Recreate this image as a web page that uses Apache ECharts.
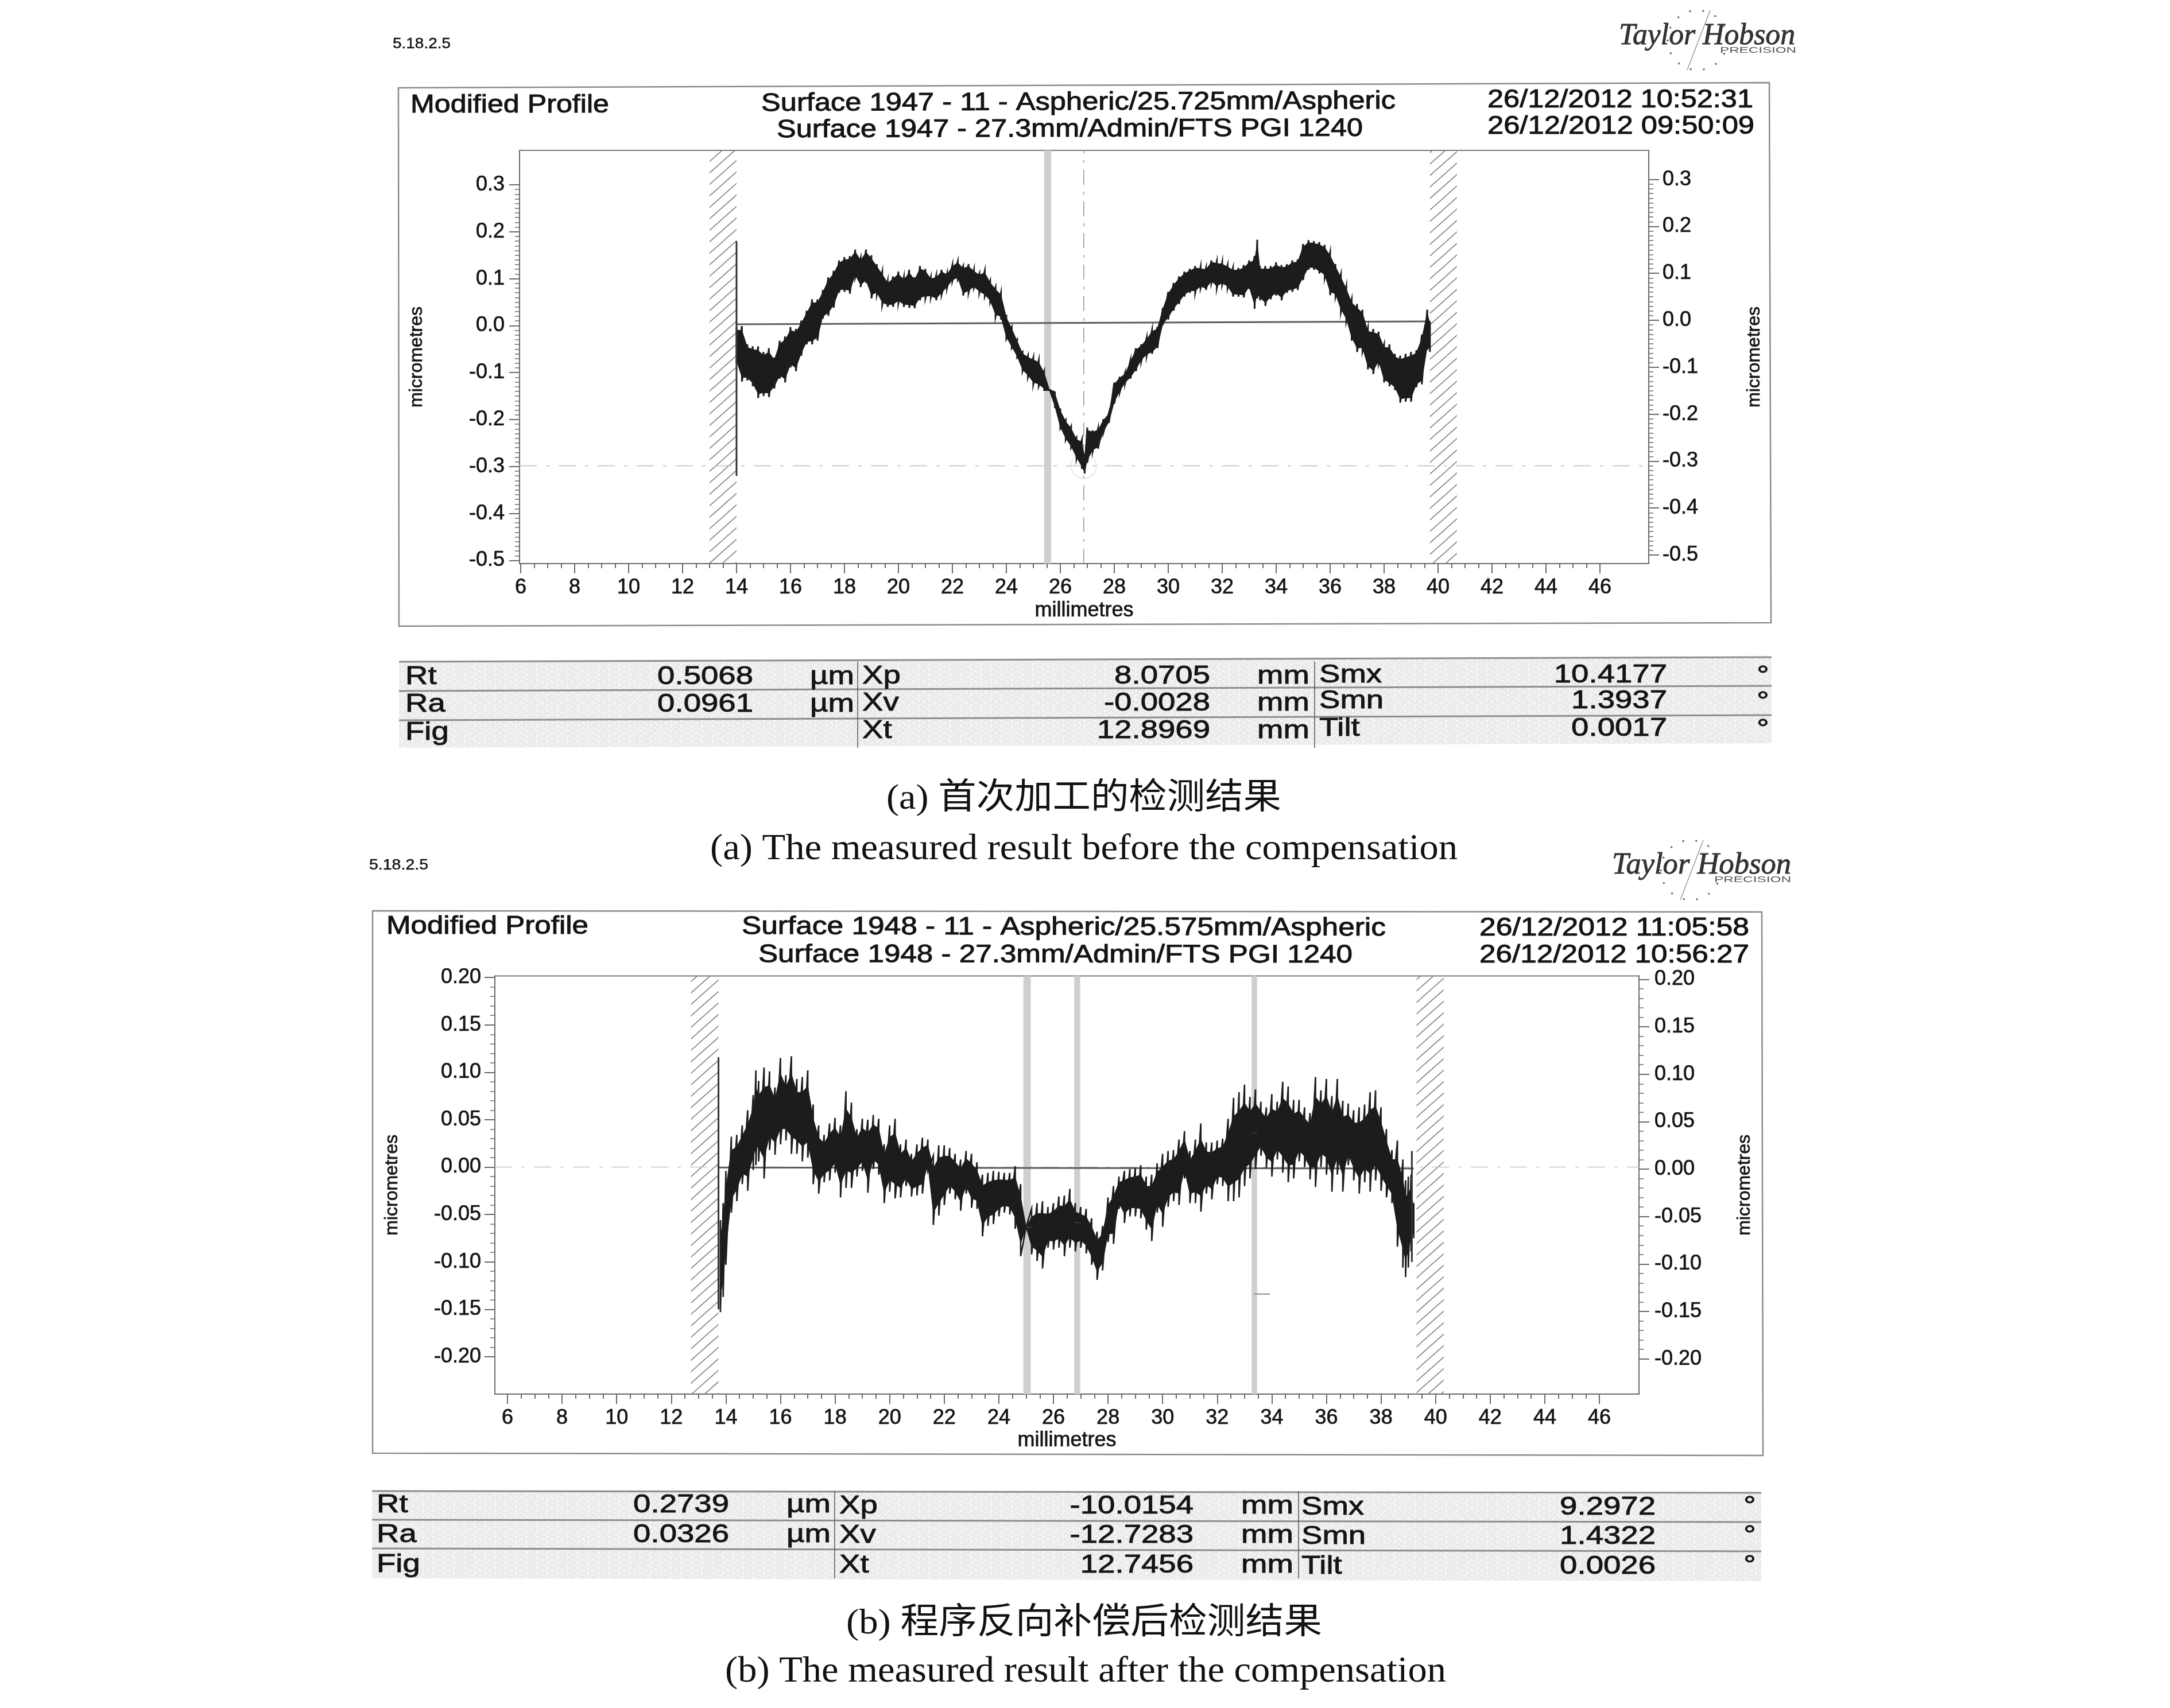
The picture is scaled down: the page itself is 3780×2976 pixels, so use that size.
<!DOCTYPE html>
<html><head><meta charset="utf-8">
<style>html,body{margin:0;padding:0;background:#fff}#c{width:3780px;height:2976px}</style>
<script src="https://cdn.jsdelivr.net/npm/echarts@6/dist/echarts.min.js"></script>
</head><body><div id="c"></div>
<script>
// ---------- panel (a) ----------
const xA = [14.0,14.2,14.4,14.6,14.8,15.0,15.2,15.4,15.6,15.8,16.0,16.2,16.4,16.6,16.8,17.0,17.2,17.4,17.6,17.8,18.0,18.2,18.4,18.6,18.8,19.0,19.2,19.4,19.6,19.8,20.0,20.2,20.4,20.6,20.8,21.0,21.2,21.4,21.6,21.8,22.0,22.2,22.4,22.6,22.8,23.0,23.2,23.4,23.6,23.8,24.0,24.2,24.4,24.6,24.8,25.0,25.2,25.4,25.6,25.8,26.0,26.2,26.4,26.6,26.8,26.9,27.0,27.2,27.4,27.6,27.8,28.0,28.2,28.4,28.6,28.8,29.0,29.2,29.4,29.6,29.8,30.0,30.2,30.4,30.6,30.8,31.0,31.2,31.4,31.6,31.8,32.0,32.2,32.4,32.6,32.8,33.0,33.2,33.3,33.4,33.6,33.8,34.0,34.2,34.4,34.6,34.8,35.0,35.2,35.4,35.6,35.8,36.0,36.2,36.4,36.6,36.8,37.0,37.2,37.4,37.6,37.8,38.0,38.2,38.4,38.6,38.8,39.0,39.2,39.4,39.6,39.7];
const hiA = [-.003,-.001,-.040,-.044,-.044,-.056,-.048,-.068,-.032,-.023,-.003,-.007,.011,.032,.056,.056,.076,.103,.117,.139,.146,.148,.162,.144,.162,.150,.131,.115,.095,.105,.115,.103,.119,.103,.127,.121,.103,.107,.119,.111,.129,.137,.127,.131,.119,.111,.117,.095,.082,.070,.021,-.003,-.030,-.056,-.064,-.068,-.074,-.097,-.137,-.142,-.178,-.201,-.215,-.239,-.243,-.276,-.217,-.223,-.219,-.199,-.186,-.121,-.109,-.101,-.074,-.048,-.040,-.026,-.009,-.003,.038,.072,.091,.105,.115,.121,.127,.125,.123,.139,.137,.135,.129,.123,.123,.129,.139,.148,.183,.127,.127,.127,.135,.129,.131,.139,.141,.174,.182,.180,.178,.172,.156,.131,.109,.084,.056,.046,.034,-.005,-.007,-.013,-.040,-.040,-.060,-.064,-.060,-.056,-.052,-.019,.034,.009];
const loA = [-.081,-.119,-.117,-.129,-.154,-.150,-.152,-.134,-.113,-.121,-.089,-.097,-.064,-.040,-.040,-.032,.015,.021,.038,.070,.072,.068,.103,.082,.091,.058,.066,.044,.040,.040,.048,.040,.038,.037,.054,.058,.060,.054,.066,.080,.095,.099,.064,.070,.080,.070,.062,.050,.019,.015,-.028,-.048,-.068,-.097,-.109,-.125,-.129,-.137,-.139,-.174,-.219,-.243,-.260,-.284,-.305,-.315,-.292,-.268,-.262,-.227,-.207,-.166,-.142,-.123,-.113,-.097,-.076,-.064,-.060,-.048,.001,.013,.032,.046,.062,.070,.070,.080,.076,.091,.080,.087,.080,.062,.062,.060,.078,.036,.058,.054,.042,.056,.064,.054,.070,.072,.076,.097,.119,.119,.111,.103,.065,.062,.029,.009,-.032,-.056,-.054,-.093,-.103,-.081,-.121,-.129,-.137,-.164,-.162,-.162,-.131,-.125,-.052,-.056];
const meanA = [[14,.003],[39.7,.0091]];
const edgesA = [[[14,.18],[14,-.32]]];
const barsA = [[25.4,25.66]];
const hatchA = [[13,14],[39.7,40.7]];
const yTicksA = [-.5,-.4,-.3,-.2,-.1,0,.1,.2,.3];
const xTicks = [6,8,10,12,14,16,18,20,22,24,26,28,30,32,34,36,38,40,42,44,46];
const refLevelA = -.2986, refXA = 26.87;
const titleA = ['Modified Profile','Surface 1947 - 11 - Aspheric/25.725mm/Aspheric','Surface 1947 - 27.3mm/Admin/FTS PGI 1240','26/12/2012 10:52:31','26/12/2012 09:50:09'];
const tableA = [['Rt','0.5068','µm','Xp','8.0705','mm','Smx','10.4177','°'],['Ra','0.0961','µm','Xv','-0.0028','mm','Smn','1.3937','°'],['Fig','','','Xt','12.8969','mm','Tilt','0.0017','°']];
const capA = ['(a) 首次加工的检测结果','(a) The measured result before the compensation'];

// ---------- panel (b) ----------
const xB = [13.8,13.9,14.0,14.2,14.4,14.6,14.8,15.0,15.1,15.2,15.4,15.6,15.8,16.0,16.2,16.4,16.6,16.8,17.0,17.2,17.4,17.6,17.8,18.0,18.2,18.4,18.6,18.8,19.0,19.2,19.4,19.6,19.8,20.0,20.2,20.4,20.6,20.8,21.0,21.2,21.4,21.6,21.8,22.0,22.2,22.4,22.6,22.8,23.0,23.2,23.4,23.6,23.8,24.0,24.2,24.4,24.6,24.8,25.0,25.2,25.4,25.6,25.8,26.0,26.2,26.4,26.6,26.8,27.0,27.2,27.4,27.6,27.8,28.0,28.2,28.4,28.6,28.8,29.0,29.2,29.4,29.6,29.8,30.0,30.2,30.4,30.6,30.8,31.0,31.2,31.4,31.6,31.8,32.0,32.2,32.4,32.6,32.8,33.0,33.2,33.4,33.6,33.8,34.0,34.2,34.4,34.6,34.8,35.0,35.2,35.4,35.6,35.8,36.0,36.2,36.4,36.6,36.8,37.0,37.2,37.4,37.6,37.8,38.0,38.2,38.4,38.6,38.8,38.9,39.0,39.1,39.2];
const hiB = [-.056,-.038,-.004,.032,.034,.044,.060,.076,.102,.091,.105,.101,.084,.115,.097,.117,.093,.095,.102,.066,.044,.034,.046,.052,.044,.080,.068,.040,.051,.050,.055,.051,.024,.044,.051,.024,.029,.014,.024,.031,.029,.012,.023,.023,.020,.014,.008,.017,.014,.005,-.008,-.006,-.004,-.005,-.006,-.006,.001,-.018,-.063,-.044,-.038,-.036,-.042,-.038,-.031,-.030,-.023,-.038,-.042,-.044,-.054,-.068,-.062,-.032,-.020,-.010,-.004,-.002,-.001,.002,-.010,-.008,.004,.014,.017,.018,.029,.038,.017,.029,.046,.026,.026,.028,.030,.051,.073,.079,.087,.074,.082,.069,.063,.077,.069,.090,.085,.071,.071,.063,.057,.095,.081,.093,.075,.093,.070,.067,.060,.063,.066,.079,.081,.063,.040,.018,.028,.008,-.014,-.010,-.008,-.038];
const loB = [-.153,-.137,-.103,-.048,-.036,-.018,-.025,-.003,.002,.006,-.012,.018,.013,.024,.028,.014,.014,.006,.010,-.018,-.028,-.016,-.014,-.006,-.032,-.022,-.022,-.010,-.004,-.027,-.002,-.008,-.038,-.026,-.033,-.032,-.020,-.031,-.030,-.028,-.004,-.061,-.051,-.040,-.028,-.034,-.046,-.028,-.043,-.044,-.073,-.062,-.060,-.052,-.048,-.050,-.065,-.094,-.064,-.092,-.099,-.107,-.085,-.087,-.085,-.094,-.085,-.089,-.085,-.091,-.103,-.119,-.109,-.079,-.081,-.044,-.059,-.052,-.052,-.054,-.066,-.078,-.048,-.063,-.042,-.036,-.040,-.012,-.038,-.038,-.047,-.028,-.034,-.018,-.020,-.036,-.036,-.032,-.020,-.012,-.002,.012,-.001,-.010,.008,-.006,-.016,-.012,.006,.000,-.013,-.021,.000,-.008,-.026,-.008,-.026,.002,-.014,-.028,-.016,-.026,-.014,-.025,-.032,-.038,-.084,-.106,-.116,-.106,-.089,-.075];
const meanB = [[13.73,-.0005],[39.2,-.0015]];
const edgesB = [[[13.73,.116],[13.73,-.15]],[[39.13,.017],[39.13,-.10]],[[24.98,-.0635],[25.2,-.0635]],[[26.76,-.0585],[27,-.0585]],[[33.26,.0364],[33.46,.0364]]];
const strayB = [[33.35,-.1339],[33.93,-.1339]];
const barsB = [[24.9,25.17],[26.76,26.98],[33.26,33.46]];
const hatchB = [[12.72,13.73],[39.3,40.3]];
const yTicksB = [-.2,-.15,-.1,-.05,0,.05,.1,.15,.2];
const refLevelB = 0;
const titleB = ['Modified Profile','Surface 1948 - 11 - Aspheric/25.575mm/Aspheric','Surface 1948 - 27.3mm/Admin/FTS PGI 1240','26/12/2012 11:05:58','26/12/2012 10:56:27'];
const tableB = [['Rt','0.2739','µm','Xp','-10.0154','mm','Smx','9.2972','°'],['Ra','0.0326','µm','Xv','-12.7283','mm','Smn','1.4322','°'],['Fig','','','Xt','12.7456','mm','Tilt','0.0026','°']];
const capB = ['(b) 程序反向补偿后检测结果','(b) The measured result after the compensation'];
const version = '5.18.2.5', brand = 'Taylor Hobson', brandSub = 'PRECISION';
const yNameText = 'micrometres', xNameText = 'millimetres';

// ---------- helpers ----------
const SANS = '"Liberation Sans",Arial,sans-serif', SERIF = '"Liberation Serif","Times New Roman",serif';
const INK = '#141414';
const mctx = document.createElement('canvas').getContext('2d');
function fit(text, x1, y1, x2, y2, size, family, o) {
  o = o || {};
  const font = (o.style || '') + ' ' + (o.weight || '') + ' ' + size + 'px ' + family;
  mctx.font = font;
  const w = mctx.measureText(text).width;
  const len = Math.hypot(x2 - x1, y2 - y1);
  const fill = o.fill || INK;
  return { type: 'text', x: (x1 + x2) / 2, y: (y1 + y2) / 2, rotation: -Math.atan2(y2 - y1, x2 - x1), scaleX: len / w, silent: true, z: 20,
    style: { text, font, fill, stroke: o.heavy ? fill : 'transparent', lineWidth: o.heavy || 0, align: 'center', verticalAlign: 'middle', x: 0, y: 0 } };
}
function cell(text, x, y, size, sx, align) {
  return { type: 'text', x, y, scaleX: sx, silent: true, z: 20,
    style: { text, font: size + 'px ' + SANS, fill: INK, stroke: INK, lineWidth: 0.9, align, verticalAlign: 'middle', x: 0, y: 0 } };
}
function poly(points, fill, stroke, lw) {
  return { type: 'polygon', shape: { points }, silent: true, z: 5, style: { fill: fill || 'transparent', stroke: stroke || 'transparent', lineWidth: lw || 0 } };
}
function seg(a, b, c, lw) {
  return { type: 'line', shape: { x1: a[0], y1: a[1], x2: b[0], y2: b[1] }, silent: true, z: 6, style: { stroke: c, lineWidth: lw } };
}
function steps(from, to, n) { const r = []; for (let i = 0; i <= n; i++) r.push(+(from + (to - from) * i / n).toFixed(4)); return r; }
function hatchTile() {
  const c = document.createElement('canvas'); c.width = 45; c.height = 40;
  const g = c.getContext('2d'); g.strokeStyle = '#858585'; g.lineWidth = 1.7;
  for (const off of [-40, -20, 0, 20, 40, 60]) { g.beginPath(); g.moveTo(-5, off + 44.4); g.lineTo(50, off - 4.4); g.stroke(); }
  return c;
}
const hatch = { image: hatchTile(), repeat: 'repeat' };
function speckleTile() {
  const rows = ['0a3c15','c2071d','14a03b','3706c1','a1250d','06d31a'];
  const c = document.createElement('canvas'); c.width = 18; c.height = 18;
  const g = c.getContext('2d');
  rows.forEach((r, y) => [...r].forEach((h, x) => { const v = 232 + parseInt(h, 16) * 1.1 | 0; g.fillStyle = 'rgb(' + v + ',' + v + ',' + v + ')'; g.fillRect(x * 3, y * 3, 3, 3); }));
  return c;
}
const speckle = { image: speckleTile(), repeat: 'repeat' };

const grids = [], xAxes = [], yAxes = [], series = [];
function axisCommon(over) { return Object.assign({ type: 'value', splitLine: { show: false }, axisLine: { onZero: false, lineStyle: { color: '#6a6a6a', width: 2 } }, axisTick: { lineStyle: { color: '#6a6a6a', width: 2 } }, axisLabel: { show: false } }, over); }
const labelWeight = { textBorderColor: INK, textBorderWidth: 0.7 };
function panel(p) {
  const g = grids.length;
  grids.push({ left: p.left, top: p.top, width: p.right - p.left, height: p.bottom - p.top, show: true, borderColor: '#7a7a7a', borderWidth: 2, backgroundColor: 'transparent', containLabel: false });
  const x0 = xAxes.length, y0 = yAxes.length;
  xAxes.push(axisCommon({ gridIndex: g, min: p.xMin, max: p.xMax, position: 'bottom', name: xNameText, nameLocation: 'middle', nameGap: p.xNameGap, nameTextStyle: Object.assign({ fontFamily: SANS, fontSize: 36, color: INK }, labelWeight),
    axisTick: { length: 17, customValues: xTicks, lineStyle: { color: '#6a6a6a', width: 2 } },
    axisLabel: Object.assign({ show: true, customValues: xTicks, margin: p.xLabelMargin, fontFamily: SANS, fontSize: 36, color: INK, showMinLabel: true, showMaxLabel: true }, labelWeight) }));
  xAxes.push(axisCommon({ gridIndex: g, min: p.xMin, max: p.xMax, position: 'bottom', axisLine: { show: false, onZero: false }, axisTick: { length: 8, customValues: steps(6, 46, 80), lineStyle: { color: '#6a6a6a', width: 2 } } }));
  const fmt = v => Number(v).toFixed(p.decimals);
  const yAxis = (side, min, max, margin, gap, ticks) => {
    yAxes.push(axisCommon({ gridIndex: g, min, max, position: side, name: yNameText, nameLocation: 'middle', nameGap: gap, nameRotate: 90, nameTextStyle: Object.assign({ fontFamily: SANS, fontSize: 32, color: INK }, labelWeight),
      axisTick: { length: 18, customValues: ticks, lineStyle: { color: '#6a6a6a', width: 2 } },
      axisLabel: Object.assign({ show: true, customValues: ticks, formatter: fmt, margin, fontFamily: SANS, fontSize: 36, color: INK, showMinLabel: true, showMaxLabel: true }, labelWeight) }));
    yAxes.push(axisCommon({ gridIndex: g, min, max, position: side, axisLine: { show: false, onZero: false }, axisTick: { length: 8, customValues: steps(ticks[0], ticks[ticks.length - 1], p.minorN), lineStyle: { color: '#6a6a6a', width: 1.5 } } }));
  };
  yAxis('left', p.yL[0], p.yL[1], p.yLabelL, p.yNameL, p.yTicks);
  yAxis('right', p.yR[0], p.yR[1], p.yLabelR, p.yNameR, p.yTicks);
  const ax = { xAxisIndex: x0, yAxisIndex: y0, animation: false, silent: true, showSymbol: false, symbol: 'none' };
  const lineData = pts => pts.map(q => [q[0], q[1]]);
  series.push(Object.assign({}, ax, { type: 'line', name: 'mean', z: 6, data: lineData(p.mean), lineStyle: { color: '#5e5e5e', width: 3 },
    markArea: { silent: true, z: 1, animation: false, data: p.bars.map(b => [{ xAxis: b[0], itemStyle: { color: '#cfcfcf' } }, { xAxis: b[1] }]).concat(p.hatch.map(b => [{ xAxis: b[0], itemStyle: { color: hatch } }, { xAxis: b[1] }])) } }));
  series.push(Object.assign({}, ax, { type: 'line', name: 'ref', z: 2, data: [[p.xMin, p.refY], [p.xMax, p.refY]], lineStyle: { color: '#c6c6c6', width: 1.6, type: [30, 16, 6, 16] } }));
  if (p.refX != null) {
    series.push(Object.assign({}, ax, { type: 'line', name: 'refX', z: 2, data: [[p.refX, p.yL[0]], [p.refX, p.yL[1]]], lineStyle: { color: '#9a9a9a', width: 1.6, type: [26, 12, 5, 12] } }));
    series.push(Object.assign({}, ax, { type: 'scatter', name: 'peak', z: 2, symbol: 'circle', symbolSize: 44, data: [[p.refX, p.refY]], itemStyle: { color: 'transparent', borderColor: '#d4d4d4', borderWidth: 1.2 } }));
  }
  const { x, hi, lo, inset } = p;
  series.push({ type: 'custom', name: 'core', xAxisIndex: x0, yAxisIndex: y0, z: 8, silent: true, animation: false, clip: false,
    data: x.map((v, i) => [v, hi[i], lo[i]]),
    encode: { x: 0, y: [1, 2] },
    renderItem(params, api) {
      const i = params.dataIndex;
      if (i >= x.length - 1) return null;
      const tHi = k => hi[k] - inset * (hi[k] - lo[k]);
      const tLo = k => lo[k] + inset * (hi[k] - lo[k]);
      const pts = [api.coord([x[i], tHi(i)]), api.coord([x[i + 1], tHi(i + 1)]), api.coord([x[i + 1], tLo(i + 1)]), api.coord([x[i], tLo(i)])];
      return { type: 'polygon', shape: { points: pts }, style: { fill: '#1c1c1c', stroke: '#1c1c1c', lineWidth: 1 } };
    } });
  const zig = [];
  x.forEach((v, i) => { zig.push([v, hi[i]], [v, lo[i]]); });
  series.push(Object.assign({}, ax, { type: 'line', name: 'profile', z: 9, data: zig, lineStyle: { color: '#1c1c1c', width: p.traceWidth, join: 'miter' } }));
  p.edges.forEach((e, k) => series.push(Object.assign({}, ax, { type: 'line', name: 'edge' + k, z: 9, data: lineData(e), lineStyle: { color: '#333', width: k < 2 ? 3 : 2.5 } })));
  if (p.stray) series.push(Object.assign({}, ax, { type: 'line', name: 'stray', z: 9, data: lineData(p.stray), lineStyle: { color: '#888', width: 2 } }));
}
panel({ left: 905, right: 2872, top: 262, bottom: 982, xMin: 5.957, xMax: 47.81, yL: [-.5068, .3733], yR: [-.5183, .3619], yTicks: yTicksA, decimals: 1, minorN: 80,
  xNameGap: 64, xLabelMargin: 24, yLabelL: 26, yLabelR: 24, yNameL: 163, yNameR: 168, inset: .08, traceWidth: 3,
  x: xA, hi: hiA, lo: loA, mean: meanA, edges: edgesA, bars: barsA, hatch: hatchA, refY: refLevelA, refX: refXA });
panel({ left: 862, right: 2855, top: 1700.5, bottom: 2429, xMin: 5.537, xMax: 47.45, yL: [-.2394, .2016], yR: [-.2371, .2036], yTicks: yTicksB, decimals: 2, minorN: 40,
  xNameGap: 63, xLabelMargin: 24, yLabelL: 24, yLabelR: 27, yNameL: 163, yNameR: 168, inset: .18, traceWidth: 2.6,
  x: xB, hi: hiB, lo: loB, mean: meanB, edges: edgesB, stray: strayB, bars: barsB, hatch: hatchB, refY: refLevelB });

// ---------- page furniture ----------
const gfx = [];
function frame(c, lw) { gfx.push(poly(c, null, '#8a8a8a', lw)); }
frame([[694, 153], [3082, 144], [3085, 1085], [695, 1091]], 2.5);
frame([[649, 1587], [3069, 1589], [3071, 2536], [649, 2532]], 2.5);
gfx.push(fit(version, 684, 77, 785, 77, 26, SANS, { heavy: .5 }));
gfx.push(fit(version, 643, 1508, 746, 1508, 26, SANS, { heavy: .5 }));
function logo(cx, cy, x1, x2, ty, sx1, sx2, sy) {
  gfx.push({ type: 'circle', shape: { cx, cy, r: 52 }, silent: true, z: 5, style: { fill: 'transparent', stroke: '#666', lineWidth: 3, lineDash: [3, 20] } });
  gfx.push(seg([cx + 22, cy - 52], [cx - 18, cy + 52], '#999', 1.5));
  gfx.push(fit(brand, x1, ty, x2, ty, 52, SERIF, { style: 'italic', fill: '#333', heavy: .9 }));
  gfx.push(fit(brandSub, sx1, sy, sx2, sy, 15, SANS, { fill: '#555' }));
}
logo(2957, 70, 2820, 3127, 63, 2996, 3129, 88);
logo(2945, 1516, 2808, 3120, 1508, 2986, 3120, 1533);
function heads(t, c) { c.forEach((q, i) => gfx.push(fit(t[i], q[0], q[1], q[2], q[3], 44, SANS, { heavy: 1 }))); }
heads(titleA, [[715, 184, 1061, 184], [1326, 181, 2431, 177], [1353, 227, 2374, 224.5], [2591, 175, 3054, 175], [2591, 221, 3056, 221]]);
heads(titleB, [[673, 1615, 1025, 1615], [1292, 1615, 2414, 1618], [1321, 1664, 2356, 1665], [2577, 1618, 3047, 1618], [2577, 1664.5, 3047, 1664.5]]);
function table(rows, o) {
  gfx.push(poly(o.box, speckle));
  o.lines.forEach(l => gfx.push(seg(l[0], l[1], '#8d8d8d', 3)));
  o.divs.forEach(d => gfx.push(seg([d, o.box[0][1]], [d, o.box[3][1]], '#555', 1.5)));
  const sx = 1.24;
  rows.forEach((r, i) => {
    const y = o.rowY[i];
    gfx.push(cell(r[0], o.x[0], y[0], 44, sx, 'left'));
    gfx.push(cell(r[1], o.x[1], y[0], 44, sx, 'right'));
    gfx.push(cell(r[2], o.x[2], y[0], 44, sx, 'left'));
    gfx.push(cell(r[3], o.x[3], y[1], 44, sx, 'left'));
    gfx.push(cell(r[4], o.x[4], y[1], 44, sx, 'right'));
    gfx.push(cell(r[5], o.x[5], y[1], 44, sx, 'left'));
    gfx.push(cell(r[6], o.x[6], y[2], 44, sx, 'left'));
    gfx.push(cell(r[7], o.x[7], y[2], 44, sx, 'right'));
    gfx.push(cell(r[8], o.x[8], y[2] + o.degDy, 44, sx, 'left'));
  });
}
table(tableA, { box: [[695, 1153], [3086, 1145], [3086, 1295], [695, 1303]], degDy: 2,
  lines: [[[695, 1153], [3086, 1145]], [[695, 1204], [3086, 1195]], [[695, 1255], [3086, 1246]]], divs: [1494, 2290],
  x: [706, 1312, 1411, 1502, 2108, 2190, 2298, 2904, 3060], rowY: [[1180, 1179, 1177], [1228, 1226, 1222], [1277, 1274, 1270]] });
table(tableB, { box: [[648, 2598], [3068, 2601], [3068, 2755], [648, 2750]], degDy: -1,
  lines: [[[648, 2598], [3068, 2601]], [[648, 2648], [3068, 2652]], [[648, 2698], [3068, 2703]]], divs: [1454, 2262],
  x: [656, 1270, 1370, 1462, 2079, 2162, 2267, 2884, 3037], rowY: [[2623, 2625, 2627], [2675, 2676, 2678], [2727, 2728, 2730]] });
const CJK = SERIF + ',"Noto Sans CJK SC"';
gfx.push(fit(capA[0], 1544, 1393, 2232, 1393, 62, CJK, { fill: '#111' }));
gfx.push(fit(capA[1], 1237, 1480, 2539, 1480, 64, SERIF, { fill: '#111' }));
gfx.push(fit(capB[0], 1474, 2830, 2303, 2830, 62, CJK, { fill: '#111' }));
gfx.push(fit(capB[1], 1263, 2913, 2519, 2913, 64, SERIF, { fill: '#111' }));

const chart = echarts.init(document.getElementById('c'), null, { renderer: 'canvas', width: 3780, height: 2976 });
chart.setOption({ backgroundColor: '#ffffff', animation: false, tooltip: { show: false }, legend: { show: false },
  grid: grids, xAxis: xAxes, yAxis: yAxes, series, graphic: { elements: gfx } });
</script></body></html>
